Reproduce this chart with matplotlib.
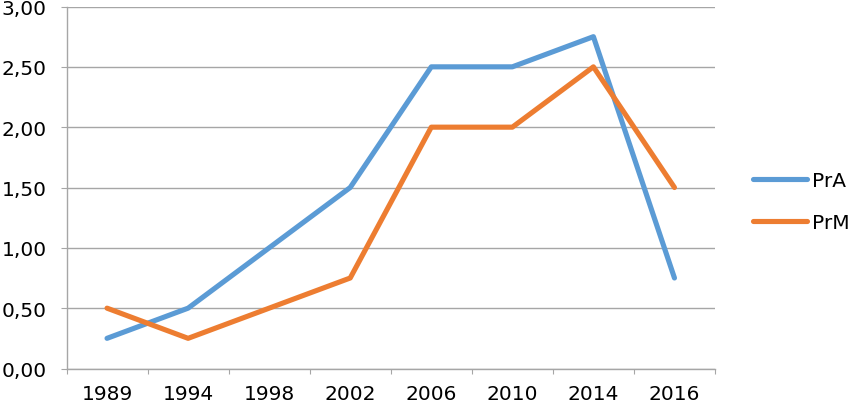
import matplotlib
matplotlib.use("Agg")
import matplotlib.pyplot as plt
from matplotlib.ticker import FuncFormatter, FixedLocator

years = ["1989", "1994", "1998", "2002", "2006", "2010", "2014", "2016"]
pra = [0.25, 0.50, 1.00, 1.50, 2.50, 2.50, 2.75, 0.75]
prm = [0.50, 0.25, 0.50, 0.75, 2.00, 2.00, 2.50, 1.50]

BLUE = "#5B9BD5"
ORANGE = "#ED7D31"
GRID = "#A6A6A6"

plt.rcParams["font.family"] = ["DejaVu Sans"]

fig = plt.figure(figsize=(8.5, 4.06), dpi=100)
W, H = 850, 406
ax = fig.add_axes([66.5 / W, 1 - 369.5 / H, (715 - 66.5) / W, (369.5 - 7.5) / H])

x = list(range(len(years)))
style = dict(lw=3.7, solid_joinstyle="round", solid_capstyle="round")
ax.plot(x, pra, color=BLUE, label="PrA", **style)
ax.plot(x, prm, color=ORANGE, label="PrM", **style)

ax.set_xlim(-0.5, len(years) - 0.5)
ax.set_ylim(0, 3)
ax.set_yticks([0, 0.5, 1, 1.5, 2, 2.5, 3])
ax.yaxis.set_major_formatter(FuncFormatter(lambda v, p: f"{v:.2f}".replace(".", ",")))
ax.set_xticks(x)
ax.set_xticklabels(years)
ax.xaxis.set_minor_locator(FixedLocator([i - 0.5 for i in range(len(years) + 1)]))

ax.grid(axis="y", color=GRID, lw=1.0)
ax.set_axisbelow(True)
for s in ["top", "right"]:
    ax.spines[s].set_visible(False)
for s in ["left", "bottom"]:
    ax.spines[s].set_color(GRID)
    ax.spines[s].set_linewidth(1.0)

ax.tick_params(axis="y", which="major", length=4.3, color=GRID, width=0.8,
               labelsize=14.5, pad=10)
ax.tick_params(axis="x", which="major", length=0, labelsize=14.5, pad=11)
ax.tick_params(axis="x", which="minor", length=3.6, color=GRID, width=0.8)

leg = ax.legend(loc="center left", bbox_to_anchor=(1 + 38 / 648.5, 0.461),
                frameon=False, fontsize=14.5, handlelength=2.7,
                handletextpad=0.25, labelspacing=1.15, borderaxespad=0,
                borderpad=0)

fig.savefig("out.png", dpi=100)
